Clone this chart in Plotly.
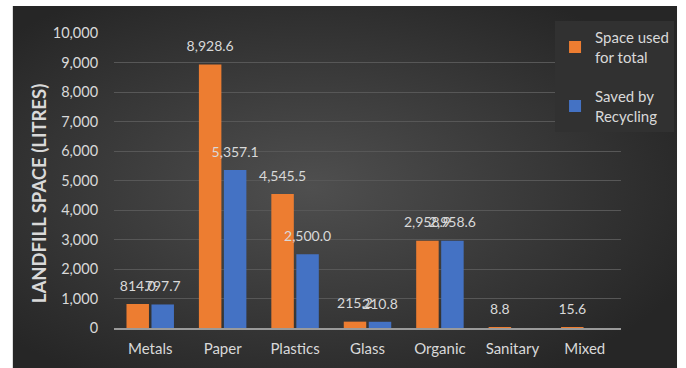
import base64
import plotly.graph_objects as go

categories = ["Metals", "Paper", "Plastics", "Glass", "Organic", "Sanitary", "Mixed"]
space_used = [814.0, 8928.6, 4545.5, 215.2, 2958.9, 8.8, 15.6]
saved_recycling = [797.7, 5357.1, 2500.0, 210.8, 2958.6, 0, 0]
series_names = ["Space used<br>for total", "Saved by<br>Recycling"]
y_ticks = list(range(0, 10001, 1000))

W, H = 686, 368
L, R, T, B = 114, 57, 33, 40
pw, ph = W - L - R, H - T - B

txt = "#d9d9d9"
font = "Lato, 'Open Sans', sans-serif"

svg = """<svg xmlns='http://www.w3.org/2000/svg' width='675' height='362' preserveAspectRatio='none'>
<defs><radialGradient id='g' cx='45%' cy='50%' r='62%'>
<stop offset='0%' stop-color='#4f4f4f'/><stop offset='100%' stop-color='#262626'/></radialGradient></defs>
<rect width='675' height='362' fill='url(#g)'/></svg>"""
src = "data:image/svg+xml;base64," + base64.b64encode(svg.encode()).decode()

fig = go.Figure()
series = [(series_names[0], space_used, "#ED7D31"),
          (series_names[1], saved_recycling, "#4472C4")]
for i, (name, vals, col) in enumerate(series):
    fig.add_trace(go.Bar(
        x=categories, y=vals, name=name, marker_color=col, legendgroup=name,
        offsetgroup=str(i), marker_line_width=0,
    ))
for i, (name, vals, col) in enumerate(series):
    texts = [f"{v:,.1f}" if v > 0 else "" for v in vals]
    fig.add_trace(go.Scatter(
        x=categories, y=vals, mode="markers+text", text=texts,
        textposition="top center", offsetgroup=str(i), orientation="v",
        marker=dict(size=14, opacity=0), showlegend=False, hoverinfo="skip",
        textfont=dict(color=txt, size=14, family=font), cliponaxis=False,
    ))

x0 = (11 - L) / pw
ytop = (H - B - 6) / ph
fig.add_layout_image(dict(source=src, xref="paper", yref="paper", x=x0, y=ytop,
                          sizex=(W - 11) / pw, sizey=(H - 6) / ph,
                          xanchor="left", yanchor="top", sizing="stretch", layer="below"))

fig.add_annotation(text="<b>LANDFILL SPACE (LITRES)</b>", textangle=-90,
                   xref="paper", yref="paper", x=(38 - L) / pw, y=(H - B - 194) / ph,
                   xanchor="center", yanchor="middle",
                   showarrow=False, font=dict(color=txt, size=18.5, family=font))

fig.update_layout(
    width=W, height=H, margin=dict(l=L, r=R, t=T, b=B),
    paper_bgcolor="white", plot_bgcolor="rgba(0,0,0,0)",
    barmode="group", bargap=0.31, bargroupgap=0.1,
    scattermode="group", scattergap=0.31,
    font=dict(family=font, color=txt, size=14),
    legend=dict(x=(562 - L) / pw, y=(H - B - 21) / ph, xanchor="left", yanchor="top",
                bgcolor="#313131", tracegroupgap=17,
                font=dict(color=txt, size=15, family=font)),
    showlegend=True,
)
fig.update_yaxes(range=[0, 10000], tickvals=y_ticks, tickformat=",",
                 gridcolor="#575757", gridwidth=1, zeroline=False, showline=False,
                 tickfont=dict(color=txt, size=14.5), ticks="outside", ticklen=12,
                 tickcolor="rgba(0,0,0,0)")
fig.update_xaxes(showline=True, linecolor="#9a9a9a", linewidth=1.5,
                 tickfont=dict(color=txt, size=15), ticks="outside", ticklen=6,
                 tickcolor="rgba(0,0,0,0)")

fig.write_html("out.html")
